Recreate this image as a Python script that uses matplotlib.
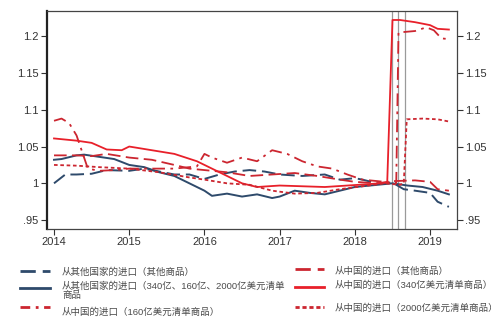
import matplotlib
matplotlib.use("Agg")
import matplotlib.pyplot as plt
from matplotlib.lines import Line2D

plt.rcParams['font.family'] = ['Liberation Sans', 'Noto Sans CJK SC', 'DejaVu Sans']

# ---- data ----
t_oth_other = [2014.0, 2014.15, 2014.3, 2014.5, 2014.7, 2015.0, 2015.2, 2015.4, 2015.6, 2015.8,
               2016.0, 2016.2, 2016.4, 2016.6, 2016.8, 2017.0, 2017.3, 2017.6, 2017.8, 2018.0,
               2018.1, 2018.3, 2018.5, 2018.65, 2018.8, 2019.0, 2019.1, 2019.25]
v_oth_other = [1.000, 1.012, 1.012, 1.013, 1.018, 1.017, 1.020, 1.016, 1.012, 1.012,
               1.006, 1.012, 1.016, 1.018, 1.016, 1.012, 1.010, 1.012, 1.005, 1.007,
               1.005, 1.000, 1.001, 0.992, 0.990, 0.987, 0.975, 0.968]

t_oth_list = [2014.0, 2014.1, 2014.3, 2014.4, 2014.6, 2014.8, 2015.0, 2015.2, 2015.4, 2015.6,
              2015.8, 2016.0, 2016.1, 2016.3, 2016.5, 2016.7, 2016.9, 2017.0, 2017.2, 2017.4,
              2017.6, 2017.8, 2018.0, 2018.3, 2018.5, 2018.7, 2018.9, 2019.1, 2019.25]
v_oth_list = [1.032, 1.033, 1.038, 1.039, 1.036, 1.033, 1.025, 1.022, 1.015, 1.010,
              1.000, 0.990, 0.983, 0.986, 0.982, 0.985, 0.980, 0.982, 0.990, 0.987,
              0.985, 0.990, 0.995, 0.998, 1.000, 0.997, 0.995, 0.990, 0.985]

t_cn_other = [2014.0, 2014.3, 2014.5, 2014.7, 2015.0, 2015.3, 2015.6, 2015.8, 2016.0, 2016.3,
              2016.6, 2016.9, 2017.2, 2017.5, 2017.8, 2018.0, 2018.3, 2018.5, 2018.8, 2019.0,
              2019.1, 2019.25]
v_cn_other = [1.038, 1.038, 1.037, 1.040, 1.035, 1.032, 1.025, 1.020, 1.018, 1.015,
              1.010, 1.012, 1.014, 1.010, 1.005, 1.002, 1.000, 1.003, 1.004, 1.002,
              0.992, 0.990]

t_cn_340 = [2014.0, 2014.3, 2014.5, 2014.7, 2014.9, 2015.0, 2015.3, 2015.6, 2015.9, 2016.1,
            2016.3, 2016.5, 2016.7, 2017.0, 2017.3, 2017.6, 2017.9, 2018.2, 2018.43, 2018.5,
            2018.6, 2018.8, 2019.0, 2019.1, 2019.25]
v_cn_340 = [1.061, 1.058, 1.055, 1.046, 1.045, 1.050, 1.045, 1.040, 1.030, 1.020,
            1.010, 1.000, 0.995, 0.997, 0.996, 0.995, 0.997, 0.999, 1.001, 1.222,
            1.222, 1.219, 1.215, 1.210, 1.209]

t_cn_160 = [2014.0, 2014.1, 2014.2, 2014.3, 2014.45, 2014.6, 2014.8, 2015.0, 2015.3, 2015.6,
            2015.9, 2016.0, 2016.1, 2016.3, 2016.5, 2016.7, 2016.9, 2017.1, 2017.3, 2017.5,
            2017.7, 2017.9, 2018.1, 2018.3, 2018.55, 2018.58, 2018.8, 2018.95, 2019.05, 2019.15,
            2019.25]
v_cn_160 = [1.085, 1.088, 1.082, 1.065, 1.020, 1.017, 1.018, 1.020, 1.020, 1.020,
            1.023, 1.040, 1.035, 1.028, 1.035, 1.030, 1.045, 1.040, 1.030, 1.023,
            1.020, 1.012, 1.005, 1.003, 1.000, 1.205, 1.207, 1.212, 1.208, 1.197,
            1.196]

t_cn_2000 = [2014.0, 2014.3, 2014.6, 2015.0, 2015.4, 2015.8, 2016.0, 2016.3, 2016.6, 2016.9,
             2017.2, 2017.5, 2017.8, 2018.1, 2018.4, 2018.6, 2018.65, 2018.69, 2018.9, 2019.1,
             2019.25]
v_cn_2000 = [1.025, 1.024, 1.022, 1.020, 1.015, 1.008, 1.005, 1.000, 0.998, 0.990,
             0.986, 0.987, 0.992, 0.996, 1.000, 0.998, 1.000, 1.087, 1.088, 1.087,
             1.084]

tariff_dates = [2018.5, 2018.58, 2018.67]
yticks = [0.95, 1.0, 1.05, 1.1, 1.15, 1.2]
ytick_labels = ['.95', '1', '1.05', '1.1', '1.15', '1.2']
xticks = [2014, 2015, 2016, 2017, 2018, 2019]

labels = ['从其他国家的进口（其他商品）',
          '从其他国家的进口（340亿、160亿、2000亿美元清单\n商品',
          '从中国的进口（160亿美元清单商品）',
          '从中国的进口（其他商品）',
          '从中国的进口（340亿美元清单商品）',
          '从中国的进口（2000亿美元清单商品）']

NAVY = '#2e4a6b'
RED = '#e8202a'
DRED = '#cc2630'

styles = [
    dict(color=NAVY, lw=1.4, dashes=(7, 3)),
    dict(color=NAVY, lw=1.4, ls='-'),
    dict(color=DRED, lw=1.3, dashes=(7, 3, 1.5, 3)),
    dict(color=DRED, lw=1.3, dashes=(7, 3)),
    dict(color=RED, lw=1.3, ls='-'),
    dict(color=DRED, lw=1.3, dashes=(2, 1.5)),
]
legend_dashes = [(5.5, 2.5), None, (3.5, 2, 1, 2), (5.5, 2.5), None, (1.5, 1.0)]

fig = plt.figure(figsize=(4.98, 3.28), dpi=100)
ax = fig.add_axes([0.0944, 0.302, 0.8236, 0.664])

for d in tariff_dates:
    ax.axvline(d, color='#9a9a9a', lw=0.9, zorder=1)

series = [(t_oth_other, v_oth_other), (t_oth_list, v_oth_list), (t_cn_160, v_cn_160),
          (t_cn_other, v_cn_other), (t_cn_340, v_cn_340), (t_cn_2000, v_cn_2000)]
for (t, v), st in zip(series, styles):
    ax.plot(t, v, zorder=3, **st)

ax.set_xlim(2013.907, 2019.36)
ax.set_ylim(0.938, 1.234)
ax.set_yticks(yticks)
ax.set_yticklabels(ytick_labels)
ax.set_xticks(xticks)
ax.tick_params(axis='both', direction='out', length=4, width=0.8, labelsize=8,
               colors='#333333', labelcolor='#333333', pad=2)
ax.tick_params(axis='y', right=True, labelright=True)
for s in ['top', 'right', 'bottom']:
    ax.spines[s].set_color('#444444')
    ax.spines[s].set_linewidth(0.9)
ax.spines['left'].set_color('#222222')
ax.spines['left'].set_linewidth(1.6)

# legend drawn in figure coordinates (pixel positions)
W, H = 498.0, 328.0
marker_y = [271, 288, 307, 269, 287, 307]
text_y = [272, 287, 312, 271, 285, 308]
for i in range(6):
    st = dict(styles[i])
    st['lw'] = 2.0
    if legend_dashes[i] is not None:
        st['dashes'] = legend_dashes[i]
    if i < 3:
        x0, x1, xt = 20, 50, 62
    else:
        x0, x1, xt = 295, 324, 335
    ym = marker_y[i]
    fig.add_artist(Line2D([x0 / W, x1 / W], [1 - ym / H, 1 - ym / H],
                          transform=fig.transFigure, **st))
    if '\n' in labels[i]:
        fig.text(xt / W, 1 - (text_y[i] - 6) / H, labels[i], fontsize=6.8, color='#4a4a4a',
                 va='top', ha='left', linespacing=1.05)
    else:
        fig.text(xt / W, 1 - text_y[i] / H, labels[i], fontsize=6.8, color='#4a4a4a',
                 va='center', ha='left')

fig.savefig('out.png', dpi=100)
